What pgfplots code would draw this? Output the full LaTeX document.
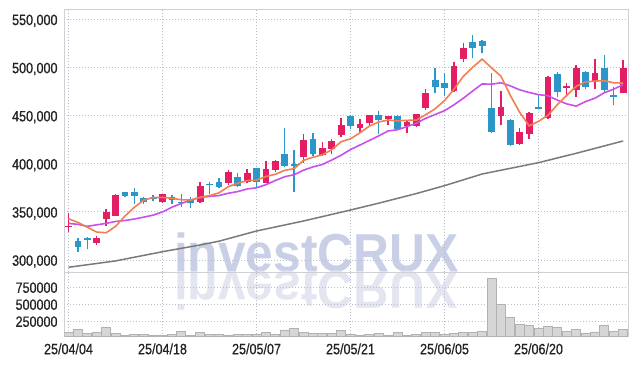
\documentclass[border=0pt]{standalone}
\usepackage{fontspec}
\setmainfont{Liberation Sans}
\newfontfamily\tickfont{Liberation Sans}[FakeStretch=0.84, FakeBold=0.6]
\newfontfamily\wmfont{Liberation Sans}
\usepackage{pgfplots}
\pgfplotsset{compat=1.18}
\usepackage{pgfplotstable}

\definecolor{upc}{RGB}{228,30,100}
\definecolor{dnc}{RGB}{45,150,200}
\definecolor{ma5c}{RGB}{240,128,80}
\definecolor{ma10c}{RGB}{200,80,235}
\definecolor{malc}{RGB}{122,122,122}
\definecolor{framec}{RGB}{208,208,212}
\definecolor{gridc}{RGB}{185,190,205}
\definecolor{volfill}{RGB}{214,214,214}
\definecolor{voldraw}{RGB}{178,178,178}
\definecolor{wmc}{RGB}{200,207,230}
\definecolor{wmrc}{RGB}{227,230,241}
\definecolor{labc}{RGB}{35,35,35}

% up (red) candles: body lo = open, hi = close
\pgfplotstableread{
i lo hi low high
0 334300 335800 329100 348800
3 318000 322500 315600 324900
4 342900 349900 335600 353000
5 346000 367500 345700 368500
10 360200 368500 359700 369000
14 360200 376900 358900 380700
17 379700 391100 377900 393500
19 380700 390000 379700 394800
21 380300 394500 379700 403100
22 393500 402800 391700 403900
25 407300 424600 400400 430900
27 409100 416000 408000 422900
28 415300 423600 410100 425700
29 429800 440200 428100 447200
31 436800 441200 433300 446100
32 442600 450600 438400 450600
34 446100 449600 440200 449600
36 439200 443600 432200 444700
37 439200 451600 438400 452000
38 457600 473800 455800 477300
41 475800 501500 474800 505300
42 508800 519800 505300 525000
46 449900 458600 440200 475800
48 420500 432600 419400 437400
49 430900 452400 425300 454000
51 447800 489800 446800 491100
53 479000 481000 469600 483500
54 476600 499700 469000 502500
56 485900 493900 477300 508500
59 473100 499100 473100 507700
}\upcandles

% down (blue) candles: body lo = close, hi = open
\pgfplotstableread{
i lo hi low high
1 313200 320000 308600 323200
2 321100 322500 311100 323600
6 366800 370300 365700 370900
7 366800 370600 358200 374800
8 360000 364100 358200 365700
9 363000 365100 361600 367500
11 362300 365700 358200 367500
12 358900 360600 355400 368500
13 358900 363000 353700 365700
15 377600 378600 368500 380500
16 376100 381000 374500 384900
18 377200 385900 376100 390700
20 380700 395200 375500 395500
23 397900 410100 396900 436800
24 397900 400000 370900 414200
26 410100 425400 408000 431600
30 439500 449600 435700 450600
33 445400 450600 430900 454800
35 436100 449600 435000 450300
39 480000 486900 473100 499100
40 479000 484100 470600 493900
43 520500 526100 509500 533700
44 522600 527400 514700 528500
45 433300 457600 432000 493900
47 419400 445400 418400 446000
50 457100 458900 457100 471400
52 474500 493200 469600 495600
55 480000 495600 477300 496600
57 476600 499100 473100 513100
58 469600 471400 461000 479400
}\dncandles

\pgfplotstableread{
i v
0 342900
1 339000
2 334000
3 329000
4 328300
5 334840
6 345560
7 354700
8 362200
9 364820
10 365020
11 364120
12 362540
13 362320
14 365100
15 366920
16 369680
17 376120
18 379780
19 382400
20 383020
21 386700
22 389040
23 393180
24 394760
25 403540
26 406660
27 409300
28 414440
29 422900
30 425880
31 432100
32 439020
33 443380
34 445260
35 444580
36 445060
37 445260
38 450940
39 457020
40 465600
41 477180
42 490820
43 500160
44 508680
45 499540
46 490960
47 470880
48 453300
49 439260
50 444020
51 450260
52 461280
53 470960
54 480420
55 485000
56 485820
57 486240
58 483960
59 483840
}\mafive

\pgfplotstableread{
i v
0 338000
1 337000
2 335000
3 336500
4 338000
5 340000
6 341000
7 342500
8 344500
9 346560
10 349930
11 354840
12 358620
13 362260
14 364960
15 365970
16 366900
17 369330
18 371050
19 373750
20 374970
21 378190
22 382580
23 386480
24 388580
25 393280
26 396680
27 399170
28 403810
29 408830
30 414710
31 419380
32 424160
33 428910
34 434080
35 435230
36 438580
37 442140
38 447160
39 451140
40 455090
41 461120
42 468040
43 475550
44 482850
45 482570
46 484070
47 480850
48 476730
49 473970
50 471780
51 470610
52 466080
53 462130
54 459840
55 464510
56 468040
57 473760
58 477460
59 482130
}\maten

\pgfplotstableread{
i v
0 292400
5 299000
10 308600
14 315600
16 319500
20 330100
25 340500
30 351900
33 359000
37 369000
40 377200
44 389300
47 395200
50 401100
54 410800
59 423600
}\malong

\pgfplotstableread{
i v
0 94000
1 138000
2 79000
3 94000
4 168000
5 79000
6 54000
7 65000
8 65000
9 50000
10 54000
11 69000
12 108000
13 54000
14 90000
15 60000
16 65000
17 54000
18 65000
19 65000
20 65000
21 94000
22 69000
23 128000
24 153000
25 94000
26 79000
27 79000
28 79000
29 118000
30 65000
31 50000
32 69000
33 79000
34 54000
35 88000
36 50000
37 65000
38 94000
39 94000
40 65000
41 79000
42 94000
43 94000
44 108000
45 888000
46 510000
47 319000
48 216000
49 197000
50 157000
51 187000
52 172000
53 113000
54 138000
55 84000
56 99000
57 201000
58 113000
59 138000
}\volume

\pgfplotsset{
  common/.style={
    scale only axis, width=564bp,
    xmin=-0.45, xmax=59.55,
    axis line style={draw=framec, line width=0.8bp},
    major tick length=0pt,
    grid=major,
    grid style={draw=gridc, line width=0.7bp, dash pattern=on 1bp off 2bp},
    xtick={0,10,20,30,40,50},
    scaled y ticks=false,
    /pgf/number format/assume math mode=true,
    tick label style={font=\tickfont\fontsize{15}{18}\selectfont, text=labc},
    yticklabel style={anchor=east, inner sep=0pt, xshift=-6.6bp},
    clip=true,
  },
}

\begin{document}
\begin{tikzpicture}
\useasboundingbox (0,0) rectangle (637bp,366bp);
\fill[white] (0,0) rectangle (637bp,366bp);

% watermark and its reflection
\begin{scope}[shift={(174bp,94bp)}, xscale=0.93]
  \node[transform shape, anchor=base west, inner sep=0pt, text=wmc,
        font=\wmfont\bfseries\fontsize{53.6}{60}\selectfont] at (0,0) {investCRUX};
\end{scope}
\begin{scope}[shift={(174bp,94bp)}, xscale=0.93, yscale=-1]
  \node[transform shape, anchor=base west, inner sep=0pt, text=wmrc,
        font=\wmfont\bfseries\fontsize{53.6}{60}\selectfont] at (0,0) {investCRUX};
\end{scope}

% price panel
\begin{axis}[common,
  at={(64.3bp,93.7bp)}, anchor=south west, height=263bp,
  ymin=287200, ymax=560400,
  ytick={300000,350000,400000,450000,500000,550000},
  yticklabel style={yshift=-1.5bp},
  xticklabels={},
  yticklabel={\pgfmathprintnumber[fixed, 1000 sep={,}]{\tick}},
]
% wicks
\addplot[draw=none, mark=none, forget plot,
  error bars/.cd, y dir=plus, y explicit, error mark=none,
  error bar style={draw=upc, line width=1.4bp, solid}]
  table[x=i, y=low, y error plus expr=\thisrow{high}-\thisrow{low}] {\upcandles};
\addplot[draw=none, mark=none, forget plot,
  error bars/.cd, y dir=plus, y explicit, error mark=none,
  error bar style={draw=dnc, line width=1.4bp, solid}]
  table[x=i, y=low, y error plus expr=\thisrow{high}-\thisrow{low}] {\dncandles};
% bodies
\addplot[draw=none, mark=none, forget plot,
  error bars/.cd, y dir=plus, y explicit, error mark=none,
  error bar style={draw=upc, line width=6.8bp, solid}]
  table[x=i, y=lo, y error plus expr=\thisrow{hi}-\thisrow{lo}] {\upcandles};
\addplot[draw=none, mark=none, forget plot,
  error bars/.cd, y dir=plus, y explicit, error mark=none,
  error bar style={draw=dnc, line width=6.8bp, solid}]
  table[x=i, y=lo, y error plus expr=\thisrow{hi}-\thisrow{lo}] {\dncandles};
% moving averages
\addplot[malc, line width=1.5bp, mark=none] table[x=i, y=v] {\malong};
\addplot[ma10c, line width=1.6bp, mark=none] table[x=i, y=v] {\maten};
\addplot[ma5c, line width=1.6bp, mark=none] table[x=i, y=v] {\mafive};
\end{axis}

% volume panel
\begin{axis}[common,
  at={(64.3bp,29.3bp)}, anchor=south west, height=64.4bp,
  ymin=29400, ymax=976500,
  ytick={250000,500000,750000},
  yticklabel={\pgfmathprintnumber[fixed, 1000 sep={}]{\tick}},
  xticklabels={25/04/04,25/04/18,25/05/07,25/05/21,25/06/05,25/06/20},
  xticklabel style={anchor=north, inner sep=0pt, yshift=-6.5bp},
]
\addplot[ybar, bar width=9bp, bar shift=0pt, fill=volfill, draw=voldraw, line width=0.8bp]
  table[x=i, y=v] {\volume};
\end{axis}
\end{tikzpicture}
\end{document}
